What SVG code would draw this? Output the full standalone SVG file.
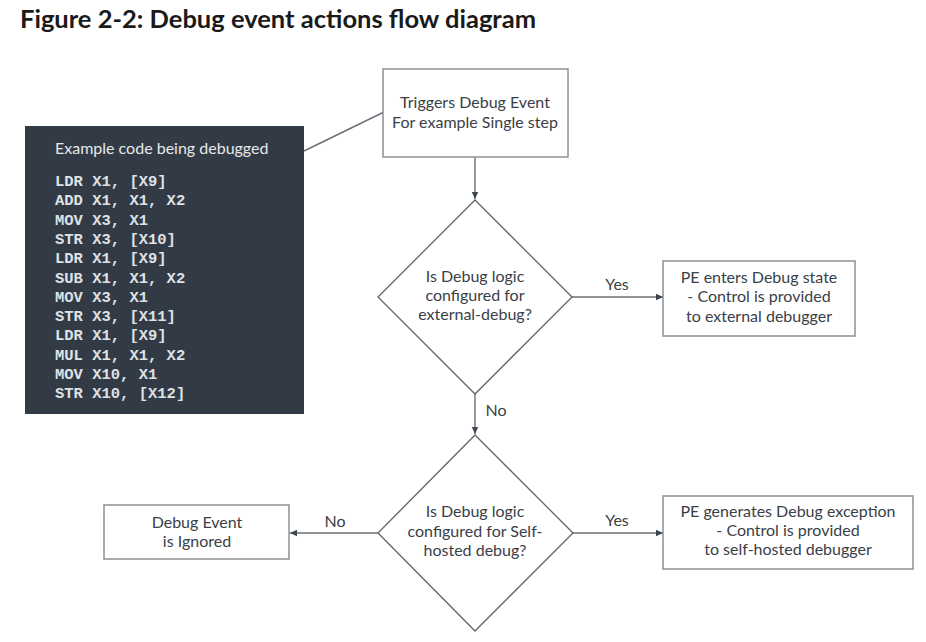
<svg xmlns="http://www.w3.org/2000/svg" width="926" height="642" viewBox="0 0 926 642">
<defs>
<marker id="arr" markerWidth="8" markerHeight="8" refX="7" refY="4" orient="auto" markerUnits="userSpaceOnUse">
<path d="M0,0.8 L7,4 L0,7.2 Z" fill="#3c4650"/>
</marker>
<style>
.box{fill:#fff;stroke:#8c9196;stroke-width:1.5}
.dia{fill:#fff;stroke:#5c646c;stroke-width:1.3}
.con{fill:none;stroke:#6a7077;stroke-width:1.4}
.t{font-family:Lato,"Liberation Sans",sans-serif;font-size:16px;fill:#3a4048;text-anchor:middle}
.code{font-family:"Liberation Mono","Courier New",monospace;font-size:15.5px;font-weight:bold;fill:#dfe2e5}
</style>
</defs>
<rect width="926" height="642" fill="#fff"/>
<text x="20" y="28" style="font-family:Lato,'Liberation Sans',sans-serif;font-size:25.5px;font-weight:bold;fill:#1a1a1a">Figure 2-2: Debug event actions flow diagram</text>

<g id="connectors">
<line class="con" x1="304" y1="151" x2="384" y2="112"/>
<line class="con" x1="475" y1="157" x2="475" y2="199" marker-end="url(#arr)"/>
<line class="con" x1="572" y1="297" x2="663" y2="297" marker-end="url(#arr)"/>
<line class="con" x1="475" y1="394" x2="475" y2="434" marker-end="url(#arr)"/>
<line class="con" x1="378" y1="533" x2="290" y2="533" marker-end="url(#arr)"/>
<line class="con" x1="572" y1="533" x2="663" y2="533" marker-end="url(#arr)"/>
<text class="t" x="617" y="290">Yes</text>
<text class="t" x="496" y="416">No</text>
<text class="t" x="335" y="527">No</text>
<text class="t" x="617" y="526">Yes</text>
</g>

<g id="code">
<rect x="25" y="126" width="279" height="288" fill="#323b45"/>
<text x="55" y="154" style="font-family:Lato,'Liberation Sans',sans-serif;font-size:16px;fill:#e6e8ea">Example code being debugged</text>
<text class="code" x="55" y="186">LDR X1, [X9]</text>
<text class="code" x="55" y="205.3">ADD X1, X1, X2</text>
<text class="code" x="55" y="224.6">MOV X3, X1</text>
<text class="code" x="55" y="243.9">STR X3, [X10]</text>
<text class="code" x="55" y="263.2">LDR X1, [X9]</text>
<text class="code" x="55" y="282.5">SUB X1, X1, X2</text>
<text class="code" x="55" y="301.8">MOV X3, X1</text>
<text class="code" x="55" y="321.1">STR X3, [X11]</text>
<text class="code" x="55" y="340.4">LDR X1, [X9]</text>
<text class="code" x="55" y="359.7">MUL X1, X1, X2</text>
<text class="code" x="55" y="379">MOV X10, X1</text>
<text class="code" x="55" y="398.3">STR X10, [X12]</text>
</g>

<g id="trigger">
<rect class="box" x="383" y="69" width="185" height="88"/>
<text class="t" x="475" y="108">Triggers Debug Event</text>
<text class="t" x="475" y="128">For example Single step</text>
</g>

<g id="decision1">
<polygon class="dia" points="475,200 572,297 475,394 378,297"/>
<text class="t" x="475" y="282">Is Debug logic</text>
<text class="t" x="475" y="301">configured for</text>
<text class="t" x="475" y="320">external-debug?</text>
</g>

<g id="debugstate">
<rect class="box" x="663" y="261" width="192" height="75"/>
<text class="t" x="759" y="283">PE enters Debug state</text>
<text class="t" x="759" y="302">- Control is provided</text>
<text class="t" x="759" y="322">to external debugger</text>
</g>

<g id="decision2">
<polygon class="dia" points="475,435 573,533 475,631 378,533"/>
<text class="t" x="475" y="517">Is Debug logic</text>
<text class="t" x="475" y="537">configured for Self-</text>
<text class="t" x="475" y="556">hosted debug?</text>
</g>

<g id="ignored">
<rect class="box" x="104" y="505" width="185" height="54"/>
<text class="t" x="197" y="528">Debug Event</text>
<text class="t" x="197" y="547">is Ignored</text>
</g>

<g id="exception">
<rect class="box" x="663" y="496" width="250" height="73"/>
<text class="t" x="788" y="517">PE generates Debug exception</text>
<text class="t" x="788" y="536">- Control is provided</text>
<text class="t" x="788" y="555">to self-hosted debugger</text>
</g>
</svg>
